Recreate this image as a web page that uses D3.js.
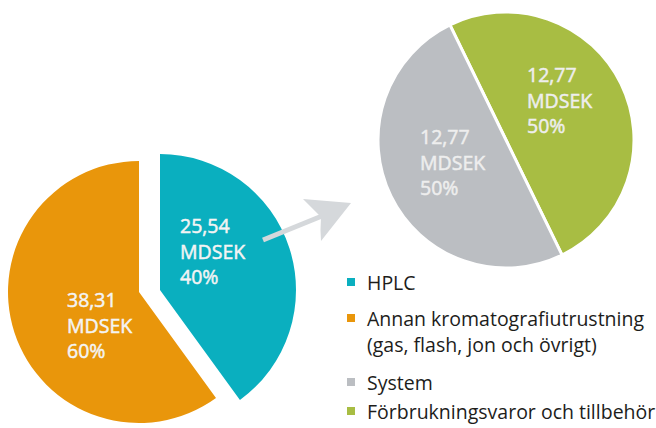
<!DOCTYPE html>
<html>
<head>
<meta charset="utf-8">
<script src="https://d3js.org/d3.v7.min.js"></script>
<style>
body { margin: 0; background: #fff; }
text { font-family: "Open Sans", sans-serif; }
</style>
</head>
<body>
<svg width="656" height="428"></svg>
<script>
// left pie: HPLC vs other chromatography
var mainNames = ["HPLC", "Annan kromatografiutrustning"];
var mainValues = [25.54, 38.31];
var mainPct = ["40%", "60%"];
var mainColors = ["#0aafbf", "#e9960b"];

// right pie: breakdown of HPLC
var subNames = ["Förbrukningsvaror och tillbehör", "System"];
var subValues = [12.77, 12.77];
var subPct = ["50%", "50%"];
var subColors = ["#a8bd43", "#bbbec2"];

var legendLabels = [["HPLC"], ["Annan kromatografiutrustning", "(gas, flash, jon och övrigt)"], ["System"], ["Förbrukningsvaror och tillbehör"]];
var legendColors = ["#0aafbf", "#e9960b", "#bbbec2", "#a8bd43"];

function fmt(v) { return d3.format(".2f")(v).replace(".", ","); }

var svg = d3.select("svg");
var rad = Math.PI / 180;

// ---- left pie
var mainPie = d3.pie().sort(null)(mainValues);
var mainCenters = [[160, 290], [139, 292]];
var mainRadius = [136, 131];
var mainLabelPos = [[180, 233], [67, 307]];

mainPie.forEach(function(d, i) {
  var arc = d3.arc().innerRadius(0).outerRadius(mainRadius[i]);
  svg.append("path")
    .attr("transform", "translate(" + mainCenters[i] + ")")
    .attr("d", arc(d))
    .attr("fill", mainColors[i]);
});

// ---- right pie
var subPie = d3.pie().sort(null).startAngle(-26 * rad).endAngle(334 * rad)(subValues);
var subArc = d3.arc().innerRadius(0).outerRadius(128);
var sub = svg.append("g").attr("transform", "translate(506,140)");
sub.selectAll("path").data(subPie).enter().append("path")
  .attr("d", subArc)
  .attr("fill", function(d, i) { return subColors[i]; })
  .attr("stroke", "#fff")
  .attr("stroke-width", 3)
  .attr("stroke-linejoin", "round");
var subLabelPos = [[527, 82], [420, 144]];

// ---- slice labels (medium-ish weight via thin stroke)
function label(x, y, lines, color) {
  var t = svg.append("text").attr("x", x).attr("y", y)
    .attr("fill", color).attr("stroke", color).attr("stroke-width", 0.5)
    .attr("font-size", 19.5);
  lines.forEach(function(l, k) {
    t.append("tspan").attr("x", x).attr("y", y + k * 25.5).text(l);
  });
}
mainValues.forEach(function(v, i) {
  label(mainLabelPos[i][0], mainLabelPos[i][1], [fmt(v), "MDSEK", mainPct[i]], "#f4f4f4");
});
subValues.forEach(function(v, i) {
  label(subLabelPos[i][0], subLabelPos[i][1], [fmt(v), "MDSEK", subPct[i]], "#eeeeee");
});

// ---- arrow
svg.append("line")
  .attr("x1", 263).attr("y1", 240).attr("x2", 322).attr("y2", 216)
  .attr("stroke", "#d5d8db").attr("stroke-width", 5);
svg.append("path")
  .attr("d", "M351,203 L303,199 Q316,212 321,217 Q320,230 321,241 Z")
  .attr("fill", "#d5d8db");

// ---- legend
var legendY = [290, 326, 390, 419];
legendLabels.forEach(function(lines, i) {
  svg.append("rect")
    .attr("x", 347).attr("y", legendY[i] - 12).attr("width", 8).attr("height", 8)
    .attr("fill", legendColors[i]);
  lines.forEach(function(l, k) {
    svg.append("text").attr("x", 367).attr("y", legendY[i] + k * 26)
      .attr("font-size", 19.5).attr("fill", "#1d1d1b").text(l);
  });
});
</script>
</body>
</html>
